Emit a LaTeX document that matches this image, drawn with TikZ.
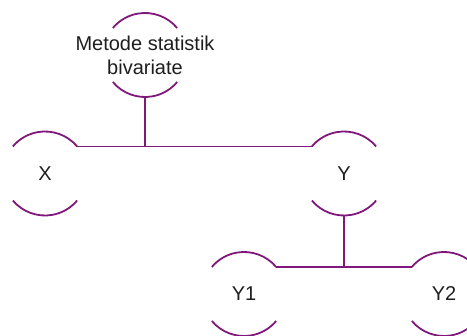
\documentclass[tikz,border=0pt]{standalone}
\usepackage{fontspec}
\setmainfont{Liberation Sans}
\definecolor{lineC}{RGB}{128,24,124}
\definecolor{txtC}{RGB}{30,30,30}
\tikzset{
  ring/.style={circle, minimum size=84pt, inner sep=0pt, outer sep=0pt},
  lbl/.style={font=\fontsize{20pt}{24pt}\selectfont, text=txtC, align=center, inner sep=0pt},
  arcline/.style={draw=lineC, line width=1.8pt},
  conn/.style={draw=lineC, line width=1.8pt}
}
\newcommand{\ringarcs}[1]{%
  \draw[arcline] (#1.40) arc[start angle=40,end angle=140,radius=42pt];
  \draw[arcline] (#1.220) arc[start angle=220,end angle=320,radius=42pt];
}
\begin{document}
\begin{tikzpicture}[x=1pt,y=-1pt]
\useasboundingbox (0,0) rectangle (467,336);
\node[ring] (top) at (145,55) {};
\node[ring] (x) at (45,173.5) {};
\node[ring] (y) at (344,173.5) {};
\node[ring] (y1) at (244,294) {};
\node[ring] (y2) at (444,294) {};
\node[lbl] (toplbl) at (top) {Metode statistik\\bivariate};
\node[lbl] (xlbl) at (x) {X};
\node[lbl] (ylbl) at (y) {Y};
\node[lbl] (y1lbl) at (y1) {Y1};
\node[lbl] (y2lbl) at (y2) {Y2};
\ringarcs{top}
\ringarcs{x}
\ringarcs{y}
\ringarcs{y1}
\ringarcs{y2}
\coordinate (j1) at (top.270 |- x.40);
\coordinate (j2) at (y.270 |- y1.40);
\draw[conn] (x.40) -- (y.140);
\draw[conn] (top.270) -- (j1);
\draw[conn] (y1.40) -- (y2.140);
\draw[conn] (y.270) -- (j2);
\end{tikzpicture}
\end{document}
